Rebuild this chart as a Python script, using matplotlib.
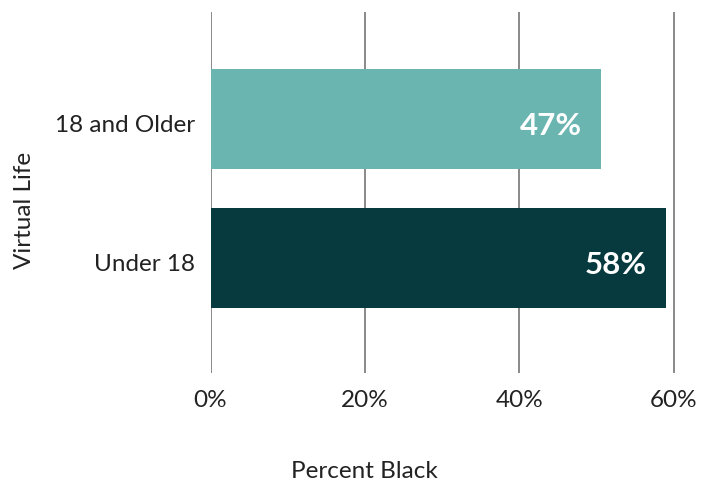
import matplotlib
matplotlib.use("Agg")
import matplotlib.pyplot as plt
import matplotlib.transforms as mtransforms

categories = ["Under 18", "18 and Older"]
values = [59.0, 50.6]
value_labels = ["58%", "47%"]
colors = ["#063A3E", "#6BB5B0"]
xticks = [0, 20, 40, 60]
xtick_labels = ["0%", "20%", "40%", "60%"]

plt.rcParams['font.family'] = ['Lato', 'DejaVu Sans']

fig = plt.figure(figsize=(7.06, 4.82), dpi=100)
ax = fig.add_axes([210.5/706, 109/482, (690-210.5)/706, 361/482])

ypos = list(range(len(categories)))
ax.barh(ypos, values, height=0.72, color=colors, zorder=3)
for y, v, lab in zip(ypos, values, value_labels):
    ax.text(v - 2.5, y - 0.05, lab, ha="right", va="center", color="white",
            fontsize=22.5, fontweight="bold", zorder=4)

ax.set_xlim(0, 62.1)
ax.set_ylim(-0.827, 1.77)
ax.set_xticks(xticks)
ax.set_xticklabels(xtick_labels, fontsize=17.5, color="#222222")
ax.set_yticks(ypos)
ax.set_yticklabels(categories, fontsize=17.5, color="#222222")
ax.tick_params(axis="x", length=0, pad=12)
ax.tick_params(axis="y", length=0, pad=11)
ax.xaxis.grid(True, color="#808080", linewidth=1.3, zorder=0)
for s in ax.spines.values():
    s.set_visible(False)

offset = mtransforms.ScaledTranslation(0, -4/100, fig.dpi_scale_trans)
for lbl in ax.get_yticklabels():
    lbl.set_transform(lbl.get_transform() + offset)

fig.text(364/706, 1 - 472/482, "Percent Black", ha="center", va="center",
         fontsize=17.5, color="#222222")
fig.text(25/706, 1 - 210/482, "Virtual Life", ha="center", va="center",
         rotation=90, fontsize=17.5, color="#222222")

fig.savefig("out.png", dpi=100)
